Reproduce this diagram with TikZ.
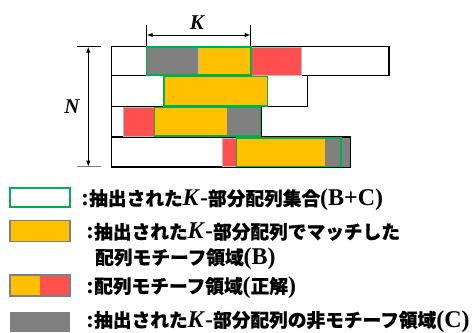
\documentclass[tikz,border=0pt]{standalone}
\usepackage{fontspec}
\setmainfont{Liberation Serif}
\newfontfamily\jpfont{Noto Sans CJK JP}[BoldFeatures={FakeBold=0.6}]
\newcommand\JP[1]{{\jpfont\fontsize{18.7}{22}\selectfont #1}}
\usetikzlibrary{arrows.meta}
\definecolor{cgray}{HTML}{808080}
\definecolor{cyel}{HTML}{FFC000}
\definecolor{cred}{HTML}{FF5050}
\definecolor{cgreen}{HTML}{00B050}
\begin{document}
\begin{tikzpicture}[x=1pt,y=-1pt,
  rowbox/.style={draw=black,line width=1.2pt},
  cell/.style={draw=gray!55,line width=0.6pt},
  sel/.style={draw=cgreen,line width=1.5pt},
  lbl/.style={anchor=base west,inner sep=0pt,font=\bfseries\fontsize{24}{26}\selectfont},
  dim/.style={line width=1pt,{Latex[length=6pt,width=4.5pt]}-{Latex[length=6pt,width=4.5pt]}},
  tick/.style={line width=1pt}]
\useasboundingbox (0,0) rectangle (473,332);

% rows
\draw[rowbox] (111.7,46.7) rectangle (389,75.5);
\draw[rowbox] (111.7,75.5) rectangle (307.3,106.7);
\draw[rowbox] (111.7,106.7) rectangle (261,136.7);
\draw[rowbox] (111.7,137) rectangle (350.5,167);

% row 1
\fill[cgray] (146.7,47.5) rectangle (198.3,75);
\draw[cell,fill=cyel] (198.3,47.5) rectangle (251,75);
\draw[cell,fill=cred] (251,47.5) rectangle (301,75);
\draw[sel] (146.7,47.2) rectangle (251,75);
% row 2
\draw[cell,fill=cyel] (164,76.7) rectangle (267.3,106);
\draw[sel] (164,76.7) rectangle (267.3,106);
% row 3
\draw[cell,fill=cred] (123.3,107.5) rectangle (154.3,136.2);
\fill[cyel] (154.3,107.5) rectangle (226.7,136.2);
\fill[cgray] (226.7,107.5) rectangle (260.7,136.2);
\draw[sel] (154.3,107.5) rectangle (260.7,136.2);
% row 4
\draw[cell,fill=cred] (222.3,137.8) rectangle (236.7,166.5);
\fill[cyel] (236.7,137.8) rectangle (325.3,166.5);
\fill[cgray] (325.3,137.8) rectangle (349.8,166.5);
\draw[sel] (236.7,137.8) rectangle (341,166.5);

% K dimension
\coordinate (kl) at (146.7,35);
\coordinate (kr) at (250.7,35);
\draw[tick] (146.7,25) -- (146.7,46);
\draw[tick] (250.7,25) -- (250.7,46);
\draw[dim] (kl) -- (kr);
\node[font=\bfseries\itshape\fontsize{21}{23}\selectfont,inner sep=0pt] (klab) at (197,22.5) {K};

% N dimension
\coordinate (nt) at (88.3,46.7);
\coordinate (nb) at (88.3,166.7);
\draw[tick] (76.7,46.7) -- (100.7,46.7);
\draw[tick,draw=gray] (76.7,166.7) -- (100.7,166.7);
\draw[dim] (nt) -- (nb);
\node[font=\bfseries\itshape\fontsize{21}{23}\selectfont,inner sep=0pt] (nlab) at (72,107) {N};

% legend boxes
\draw[draw=cgreen,line width=2pt,fill=white] (10,188.3) rectangle (70,207.3);
\draw[draw=gray,line width=1.2pt,fill=cyel] (10,220.7) rectangle (70,241.7);
\fill[cyel] (10,275) rectangle (40,296);
\fill[cred] (40,275) rectangle (70,296);
\draw[draw=gray,line width=1.2pt] (10,275) rectangle (70,296);
\fill[cgray] (10,311.7) rectangle (70,331.7);

% legend texts
\node[lbl] (t1) at (81,205.4) {:\JP{抽出された}\textit{K}-\JP{部分配列集合}(B+C)};
\node[lbl] (t2) at (86,238.8) {:\JP{抽出された}\textit{K}-\JP{部分配列でマッチした}};
\node[lbl] (t2b) at (95,264.4) {\JP{配列モチーフ領域}(B)};
\node[lbl] (t3) at (86,293.1) {:\JP{配列モチーフ領域}(\JP{正解})};
\node[lbl] (t4) at (86,327) {:\JP{抽出された}\textit{K}-\JP{部分配列の非モチーフ領域}(C)};
\end{tikzpicture}
\end{document}
